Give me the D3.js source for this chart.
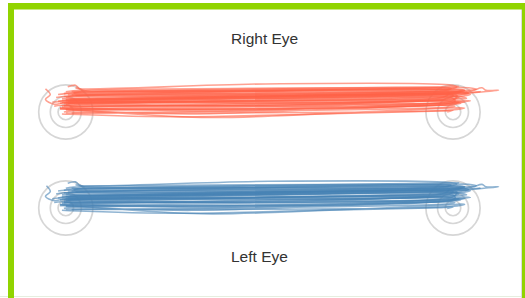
<!DOCTYPE html>
<html>
<head>
<meta charset="utf-8">
<script src="https://cdn.jsdelivr.net/npm/d3@7"></script>
<style>
  html, body { margin: 0; padding: 0; background: #fff; }
  svg { display: block; }
</style>
</head>
<body>
<svg id="chart" width="525" height="298"></svg>
<script>
// ---- Data (gaze traces in degrees of visual angle; targets at x = -10 and +10) ----
const panelTitles = ["Right Eye", "Left Eye"];
const targetsX = [-10, 10];
const ringRadii = [0.4, 0.8, 1.4];

const rightEye = [
  [[-9.5,1.25],[-9.3,1.2],[0.3,1.45],[9.8,1.4],[10.2,1.3],[9.9,1.2],[-9.2,1.05],[-9.6,1.0]],
  [[-11.05,1.2],[-10.8,0.9],[-11.05,0.65],[-10.6,0.4],[-10.0,0.5],[9.5,0.95],[10.3,1.0],[11.0,1.1],[11.5,1.25],[11.7,1.12],[12.35,1.12],[11.6,1.05],[10.5,0.95],[-9.8,0.55]],
  [[-10.2,0.3],[-9.9,0.35],[9.4,0.75],[10.0,0.7],[10.1,0.55],[-9.9,0.2],[-10.2,0.25]],
  [[-10.0,0.15],[-9.6,0.12],[-3.0,-0.28],[2.0,-0.15],[9.6,0.2],[10.4,0.22],[10.6,0.2],[9.9,0.1],[-9.7,-0.05]],
  [[-9.9,0.8],[-9.5,0.85],[9.2,1.15],[9.9,1.1],[10.4,1.05],[10.0,0.95],[-9.6,0.7],[-10.0,0.75]],
  [[-10.4,0.55],[-10.0,0.6],[9.7,0.9],[10.2,0.85],[10.0,0.6],[-10.1,0.45]],
  [[-10.1,0.95],[-9.7,1.0],[9.3,1.2],[10.1,1.18],[10.6,1.12],[10.2,1.05],[-9.5,0.85]],
  [[-10.3,0.2],[-9.9,0.22],[-2.5,0.05],[9.8,0.45],[10.4,0.45],[9.9,0.38],[-10.0,0.1]],
  [[-9.8,0.65],[9.5,1.0],[10.5,1.02],[10.8,0.98],[10.1,0.85],[-9.8,0.5]],
  [[-10.5,0.75],[-10.1,0.8],[9.1,1.05],[9.8,1.02],[9.6,0.8],[-10.2,0.6]],
  [[-10.0,0.4],[-9.6,0.45],[9.9,0.8],[10.3,0.75],[9.8,0.65],[-9.7,0.3],[-10.1,0.35]],
  [[-10.2,-0.1],[-9.8,-0.12],[-4.0,-0.25],[3.0,-0.1],[9.4,0.05],[10.0,0.08],[9.7,0.0]],
  [[-9.7,0.9],[9.6,1.25],[10.8,1.25],[11.2,1.18],[10.4,1.1],[-9.6,0.95]],
  [[-10.3,0.45],[9.2,0.6],[10.0,0.55],[10.6,0.5],[9.8,0.45],[-10.1,0.3]],
  [[-10.0,1.05],[-9.6,1.1],[8.9,1.25],[9.9,1.22],[9.6,1.12],[-9.9,0.9]],
  [[-10.6,0.3],[-10.2,0.35],[-0.5,0.3],[9.8,0.6],[10.9,0.58],[10.2,0.5],[-10.3,0.15]],
  [[-9.9,0.55],[9.7,0.95],[10.9,0.92],[10.3,0.8],[-9.9,0.45]],
  [[-10.1,0.0],[-9.6,0.05],[-3.5,-0.1],[9.5,0.35],[10.1,0.3],[9.8,0.25],[-10.0,-0.05]],
  [[-9.9,1.3],[-9.5,1.38],[-9.3,1.2],[-9.0,1.1],[9.5,1.3],[10.3,1.32],[-9.7,1.05]],
  [[-10.7,0.5],[-10.3,0.55],[9.3,0.85],[10.2,0.82],[10.7,0.7],[10.0,0.68],[-10.2,0.5]],
  [[-10.2,0.7],[9.8,1.05],[11.0,1.02],[11.4,1.05],[10.6,1.0],[-10.0,0.65]],
  [[-9.8,0.25],[9.1,0.55],[10.3,0.5],[9.9,0.4],[-9.9,0.15],[-10.3,0.2]],
  [[-10.4,0.9],[-10.0,0.95],[9.6,1.15],[10.6,1.12],[10.0,1.0],[-10.1,0.8]],
  [[-10.0,0.6],[9.4,0.92],[10.0,0.88],[9.7,0.7],[-10.0,0.5]]
];

const leftEye = [
  [[-9.5,1.2],[-9.2,1.15],[0.5,1.38],[9.8,1.32],[10.2,1.25],[9.9,1.15],[-9.3,1.0],[-9.6,0.95]],
  [[-11.0,1.15],[-10.8,0.85],[-11.05,0.6],[-10.6,0.38],[-10.0,0.48],[9.5,0.92],[10.3,0.98],[11.0,1.08],[11.5,1.22],[11.7,1.1],[12.35,1.1],[11.6,1.02],[10.5,0.92],[-9.8,0.5]],
  [[-10.2,0.28],[-9.9,0.3],[9.4,0.7],[10.0,0.68],[10.1,0.5],[-9.9,0.18],[-10.2,0.22]],
  [[-10.0,0.12],[-9.6,0.1],[-3.0,-0.3],[2.0,-0.18],[9.6,0.15],[10.4,0.2],[10.6,0.18],[9.9,0.08],[-9.7,-0.08]],
  [[-9.9,0.78],[-9.5,0.82],[9.2,1.12],[9.9,1.08],[10.4,1.02],[10.0,0.92],[-9.6,0.68],[-10.0,0.72]],
  [[-10.4,0.52],[-10.0,0.58],[9.7,0.88],[10.2,0.82],[10.0,0.58],[-10.1,0.42]],
  [[-10.1,0.92],[-9.7,0.98],[9.3,1.18],[10.1,1.15],[10.6,1.1],[10.2,1.02],[-9.5,0.82]],
  [[-10.3,0.18],[-9.9,0.2],[-2.5,0.02],[9.8,0.42],[10.4,0.42],[9.9,0.35],[-10.0,0.08]],
  [[-9.8,0.62],[9.5,0.98],[10.5,1.0],[10.8,0.95],[10.1,0.82],[-9.8,0.48]],
  [[-10.5,0.72],[-10.1,0.78],[9.1,1.02],[9.8,1.0],[9.6,0.78],[-10.2,0.58]],
  [[-10.0,0.38],[-9.6,0.42],[9.9,0.78],[10.3,0.72],[9.8,0.62],[-9.7,0.28],[-10.1,0.32]],
  [[-10.2,-0.12],[-9.8,-0.14],[-4.0,-0.27],[3.0,-0.12],[9.4,0.02],[10.0,0.05],[9.7,-0.02]],
  [[-9.7,0.88],[9.6,1.22],[10.8,1.22],[11.2,1.15],[10.4,1.08],[-9.6,0.92]],
  [[-10.3,0.42],[9.2,0.58],[10.0,0.52],[10.6,0.48],[9.8,0.42],[-10.1,0.28]],
  [[-10.0,1.02],[-9.6,1.08],[8.9,1.22],[9.9,1.2],[9.6,1.1],[-9.9,0.88]],
  [[-10.6,0.28],[-10.2,0.32],[-0.5,0.28],[9.8,0.58],[10.9,0.55],[10.2,0.48],[-10.3,0.12]],
  [[-9.9,0.52],[9.7,0.92],[10.9,0.9],[10.3,0.78],[-9.9,0.42]],
  [[-10.1,-0.02],[-9.6,0.02],[-3.5,-0.12],[9.5,0.32],[10.1,0.28],[9.8,0.22],[-10.0,-0.08]],
  [[-9.9,1.28],[-9.5,1.35],[-9.3,1.18],[-9.0,1.08],[9.5,1.28],[10.3,1.3],[-9.7,1.02]],
  [[-10.7,0.48],[-10.3,0.52],[9.3,0.82],[10.2,0.8],[10.7,0.68],[10.0,0.65],[-10.2,0.48]],
  [[-10.2,0.68],[9.8,1.02],[11.0,1.0],[11.4,1.02],[10.6,0.98],[-10.0,0.62]],
  [[-9.8,0.22],[9.1,0.52],[10.3,0.48],[9.9,0.38],[-9.9,0.12],[-10.3,0.18]],
  [[-10.4,0.88],[-10.0,0.92],[9.6,1.12],[10.6,1.1],[10.0,0.98],[-10.1,0.78]],
  [[-10.0,0.58],[9.4,0.9],[10.0,0.85],[9.7,0.68],[-10.0,0.48]]
];

const seriesColors = ["tomato", "steelblue"];

// ---- Drawing ----
const svg = d3.select("#chart");
const W = 525, H = 298;

svg.append("rect").attr("width", W).attr("height", H).attr("fill", "#fff");

// frame
const green = "#91d400";
svg.append("line").attr("x1", 0).attr("x2", 525).attr("y1", 296.5).attr("y2", 296.5)
  .attr("stroke", "#e6eedf").attr("stroke-width", 1);
svg.append("line").attr("x1", 521.5).attr("x2", 521.5).attr("y1", 9).attr("y2", 298)
  .attr("stroke", "#dcdcdc").attr("stroke-width", 1);
svg.append("rect").attr("x", 8).attr("y", 3).attr("width", 6).attr("height", 295).attr("fill", green);
svg.append("rect").attr("x", 8).attr("y", 3).attr("width", 517).attr("height", 6.5).attr("fill", green);
svg.append("rect").attr("x", 522).attr("y", 3).attr("width", 3).attr("height", 295).attr("fill", green);

const x = d3.scaleLinear().domain([-10, 10]).range([65.8, 453]);
const pxPerDeg = (x(10) - x(-10)) / 20;
const panelCenters = [112, 208];
const panelData = [rightEye, leftEye];

panelData.forEach((traces, i) => {
  const cy = panelCenters[i];
  const y = d3.scaleLinear().domain([-2, 2]).range([cy + 2 * pxPerDeg, cy - 2 * pxPerDeg]);
  const g = svg.append("g");

  // target rings
  targetsX.forEach(tx => {
    g.selectAll(null).data(ringRadii).enter().append("circle")
      .attr("cx", x(tx)).attr("cy", y(0))
      .attr("r", r => x(r) - x(0))
      .attr("fill", "none")
      .attr("stroke", "#d6d6d6")
      .attr("stroke-width", 1.7);
  });

  const line = d3.line()
    .x(d => x(d[0])).y(d => y(d[1]))
    .curve(d3.curveCatmullRom.alpha(0.5));

  g.selectAll(null).data(traces).enter().append("path")
    .attr("d", line)
    .attr("fill", "none")
    .attr("stroke", seriesColors[i])
    .attr("stroke-width", 1.6)
    .attr("stroke-opacity", 0.6)
    .attr("stroke-linejoin", "round");
});

// titles
svg.append("text").attr("x", 231).attr("y", 44).text(panelTitles[0])
  .attr("font-family", "Liberation Sans, Arial, sans-serif").attr("font-size", 15.5).attr("fill", "#333");
svg.append("text").attr("x", 231).attr("y", 262).text(panelTitles[1])
  .attr("font-family", "Liberation Sans, Arial, sans-serif").attr("font-size", 15.5).attr("fill", "#333");
</script>
</body>
</html>
